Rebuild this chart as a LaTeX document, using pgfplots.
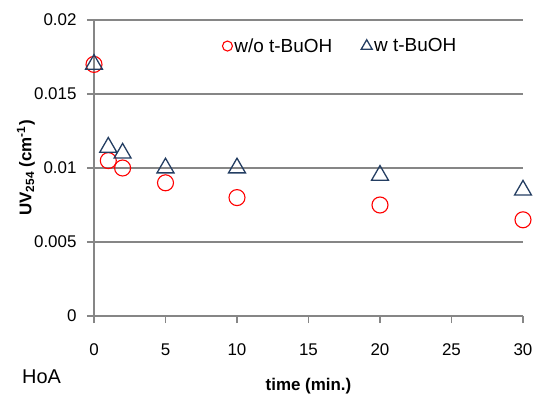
\documentclass[border=0pt]{standalone}
\usepackage{fontspec}
\setmainfont{Liberation Sans}
\usepackage{pgfplots}
\pgfplotsset{compat=1.18}
\definecolor{gridgray}{RGB}{134,134,134}
\definecolor{navy}{RGB}{36,62,98}
\definecolor{mred}{RGB}{255,0,0}
\pgfplotsset{
  smalllegend/.style={legend image code/.code={\draw[##1, mark size=#1] plot coordinates {(0.1cm,0cm)};}}
}
\begin{document}
\begin{tikzpicture}
\useasboundingbox (-94bp,-78bp) rectangle (443bp,316bp);
\begin{axis}[
  scale only axis,
  width=429bp, height=296bp,
  xmin=0, xmax=30, ymin=0, ymax=0.02,
  axis lines=left,
  axis line style={-, gridgray, line width=1.4bp},
  xtick={0,5,...,30},
  ytick={0,0.005,0.01,0.015,0.02},
  yticklabels={0,0.005,0.01,0.015,0.02},
  scaled y ticks=false,
  tick align=outside,
  major tick length=7bp,
  tick style={gridgray, line width=1.2bp},
  ymajorgrids,
  grid style={gridgray, line width=1.2bp},
  /pgf/number format/assume math mode=true,
  tick label style={font=\fontsize{17}{20}\selectfont},
  yticklabel style={xshift=-7bp},
  xticklabel style={yshift=-17bp},
  clip=false,
  xlabel={\textbf{time (min.)}},
  ylabel={\textbf{UV\textsubscript{254} (cm\textsuperscript{-1})}},
  label style={font=\fontsize{17}{20}\selectfont},
  xlabel style={at={(axis description cs:0.5,0)}, anchor=base, yshift=-74bp},
  ylabel style={at={(axis description cs:-0.1585,0.5)}, anchor=center},
  legend columns=2,
  legend style={draw=none, fill=none, at={(0.292,0.912)}, anchor=west,
    font=\fontsize{19}{22}\selectfont, /tikz/every even column/.append style={column sep=27bp}},
  legend cell align=left,
]
\addplot[only marks, mark=o, mark size=8bp, mark options={draw=mred, line width=1.1bp},
  smalllegend=5bp]
  coordinates {(0,0.017) (1,0.0105) (2,0.01) (5,0.009) (10,0.008) (20,0.0075) (30,0.0065)};
\addlegendentry{w/o t-BuOH}
\addplot[only marks, mark=triangle, mark size=9.8bp, mark options={draw=navy, line width=1.3bp},
  smalllegend=6.3bp]
  coordinates {(0,0.017) (1,0.0114) (2,0.011) (5,0.01) (10,0.01) (20,0.0095) (30,0.0085)};
\addlegendentry{w t-BuOH}
\end{axis}
\node[anchor=base west, font=\fontsize{20}{24}\selectfont, inner sep=0pt] at (-72bp,-67bp) {HoA};
\end{tikzpicture}
\end{document}
